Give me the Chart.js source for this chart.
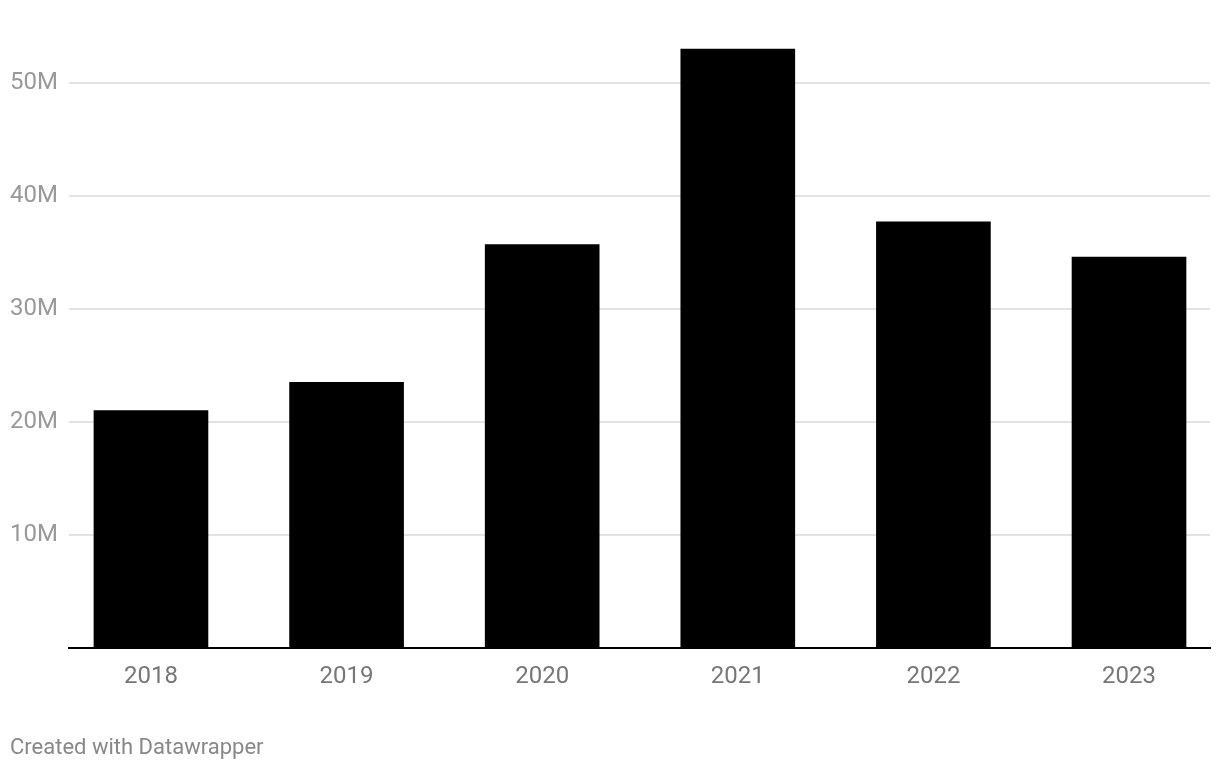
<!DOCTYPE html>
<html lang="en">
<head>
  <meta charset="UTF-8">
  <title>Bar chart</title>
  <script src="https://cdn.jsdelivr.net/npm/chart.js"></script>
  <style>
    html, body { margin: 0; padding: 0; background: #fff; overflow: hidden; }
    #wrap { position: relative; width: 1220px; height: 770px; }
    #footer {
      position: absolute; left: 10px; top: 734px;
      font-family: Roboto, sans-serif; font-size: 22px; color: #888;
    }
  </style>
</head>
<body>
  <div id="wrap">
    <canvas id="chart" width="1220" height="770"></canvas>
    <div id="footer">Created with Datawrapper</div>
  </div>

  <script>
    // --- DATA ---
    const years = ['2018', '2019', '2020', '2021', '2022', '2023'];
    const values = [21.0, 23.5, 35.7, 53.0, 37.7, 34.6]; // millions
    const yTicks = [0, 10, 20, 30, 40, 50];

    const ctx = document.getElementById('chart').getContext('2d');
    new Chart(ctx, {
      type: 'bar',
      data: {
        datasets: [{
          data: values.map((v, i) => ({ x: i, y: v })),
          backgroundColor: '#000',
          barThickness: 114,
        }]
      },
      options: {
        responsive: false,
        animation: false,
        layout: { padding: { left: 10, right: 10, top: 26, bottom: 0 } },
        plugins: { legend: { display: false }, tooltip: { enabled: false } },
        scales: {
          x: {
            type: 'linear',
            min: -0.419,
            max: 5.414,
            bounds: 'data',
            offset: false,
            afterBuildTicks: axis => { axis.ticks = years.map((_, i) => ({ value: i })); },
            afterFit: axis => { axis.height = 122; },
            grid: { display: false, drawTicks: false, offset: false },
            border: { color: '#000', width: 2 },
            ticks: {
              padding: 15,
              color: '#777',
              font: { family: 'Roboto', size: 24 },
              callback: v => years[v] ?? ''
            }
          },
          y: {
            min: 0,
            max: 55,
            afterBuildTicks: axis => { axis.ticks = yTicks.map(v => ({ value: v })); },
            afterFit: axis => { axis.width = 59; },
            grid: {
              color: ctx => ctx.tick && ctx.tick.value === 0 ? 'rgba(0,0,0,0)' : '#e3e3e3',
              lineWidth: 2,
              drawTicks: false
            },
            border: { display: false },
            ticks: {
              crossAlign: 'far',
              padding: 12,
              color: '#999',
              font: { family: 'Roboto', size: 24 },
              callback: v => v === 0 ? '' : v + 'M'
            }
          }
        }
      }
    });
  </script>
</body>
</html>
